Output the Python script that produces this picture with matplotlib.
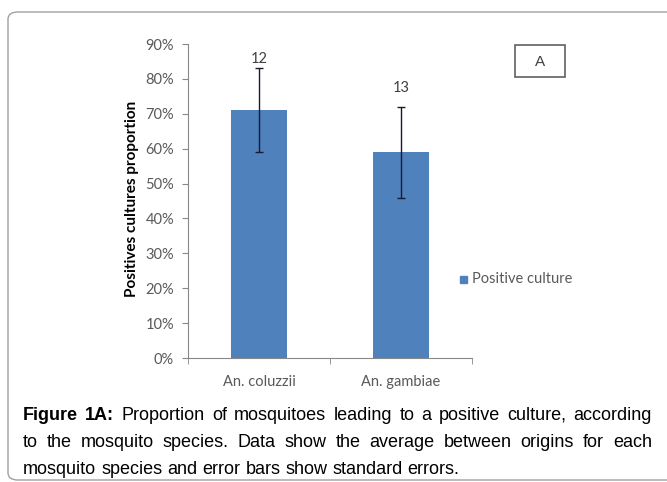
import matplotlib.pyplot as plt
from matplotlib.patches import FancyBboxPatch, Rectangle
from matplotlib.ticker import PercentFormatter

species = ["An. coluzzii", "An. gambiae"]
proportion = [71, 59]
std_err = [12, 13]
n_labels = ["12", "13"]
series_name = "Positive culture"
caption_lines = [
    "Figure 1A: Proportion of mosquitoes leading to a positive culture, according",
    "to the mosquito species. Data show the average between origins for each",
    "mosquito species and error bars show standard errors.",
]

W, H = 667, 482
BAR_COLOR = "#4F81BD"
GRAY = "#595959"
FS = 10.5
CAP_FAMILY = "Liberation Sans"

fig = plt.figure(figsize=(W / 100, H / 100), dpi=100)

# outer rounded frame
frame = FancyBboxPatch((8 / W, 1 - 480 / H), 700 / W, 468 / H,
                       boxstyle="round,pad=0,rounding_size=0.015",
                       transform=fig.transFigure, fill=False,
                       edgecolor="#a0a0a0", linewidth=1.0)
fig.patches.append(frame)

ax = fig.add_axes([188 / W, 1 - 358 / H, 284 / W, 314 / H])
x = list(range(len(species)))
ax.bar(x, proportion, width=0.4, color=BAR_COLOR, zorder=2)
ax.errorbar(x, proportion, yerr=std_err, fmt="none", ecolor="#1a1a2e",
            elinewidth=1.0, capsize=3, capthick=1.0, zorder=3)

# sample size labels above error bars
label_offsets = [9, 19]
for xi, v, e, lab, off in zip(x, proportion, std_err, n_labels, label_offsets):
    ax.annotate(lab, (xi, v + e), xytext=(0, off), textcoords="offset pixels",
                ha="center", va="center", fontsize=FS, color="#404040",
                family="Lato")

ax.set_xlim(-0.5, 1.5)
ax.set_ylim(0, 90)
ax.set_yticks(range(0, 91, 10))
ax.yaxis.set_major_formatter(PercentFormatter(decimals=0))
ax.set_xticks(x)
ax.set_xticklabels(species)
ax.set_xticks([-0.5, 0.5, 1.5], minor=True)
ax.tick_params(axis="x", which="major", length=0, pad=12)
ax.tick_params(axis="x", which="minor", length=4, color="#888888", direction="out")
ax.tick_params(axis="y", length=4, color="#888888", pad=6)
for lab in ax.get_xticklabels() + ax.get_yticklabels():
    lab.set_family("Lato")
    lab.set_fontsize(FS)
    lab.set_color(GRAY)
for s in ["top", "right"]:
    ax.spines[s].set_visible(False)
for s in ["left", "bottom"]:
    ax.spines[s].set_color("#888888")

fig.text(132 / W, 1 - 199 / H, "Positives cultures proportion", rotation=90,
         ha="center", va="center", fontsize=11, fontweight="bold",
         family="Lato", color="black")

# legend
fig.patches.append(Rectangle((460 / W, 1 - 283 / H), 7 / W, 7 / H,
                             transform=fig.transFigure, color=BAR_COLOR))
fig.text(472 / W, 1 - 279 / H, series_name, ha="left", va="center",
         fontsize=FS, family="Lato", color=GRAY)

# panel letter box
fig.patches.append(Rectangle((515 / W, 1 - 77 / H), 50 / W, 32 / H,
                             transform=fig.transFigure, fill=False,
                             edgecolor="#606060", linewidth=1.2))
fig.text(540 / W, 1 - 62 / H, "A", ha="center", va="center", fontsize=11,
         family="Liberation Sans", color="#404040")

# caption, justified like the source
renderer = fig.canvas.get_renderer()


def text_width(s, size, weight="normal"):
    t = fig.text(0, 0, s, fontsize=size, family=CAP_FAMILY, fontweight=weight)
    w = t.get_window_extent(renderer).width
    t.remove()
    return w


# pick the caption size so the last (unjustified) line ends where it does
left_px, right_px, last_end_px = 23, 652, 470
CAP_FS = 10 * (last_end_px - left_px) / text_width(caption_lines[2], 10)
CAP_FS = min(CAP_FS, 13.0)
space_w = text_width("a b", CAP_FS) - text_width("ab", CAP_FS)

line_base = [420, 447, 474]
for li, (line, yy) in enumerate(zip(caption_lines, line_base)):
    words = line.split(" ")
    arts = []
    for wi, w in enumerate(words):
        bold = li == 0 and wi < 2
        t = fig.text(0, 1 - yy / H, w, ha="left", va="baseline", fontsize=CAP_FS,
                     family=CAP_FAMILY,
                     fontweight="bold" if bold else "normal", color="black")
        arts.append(t)
    widths = [a.get_window_extent(renderer).width for a in arts]
    if li < len(caption_lines) - 1:
        gap = (right_px - left_px - sum(widths)) / (len(words) - 1)
    else:
        gap = space_w
    xpos = left_px
    for a, wdt in zip(arts, widths):
        a.set_x(xpos / W)
        xpos += wdt + gap

fig.savefig("out.png", dpi=100)
